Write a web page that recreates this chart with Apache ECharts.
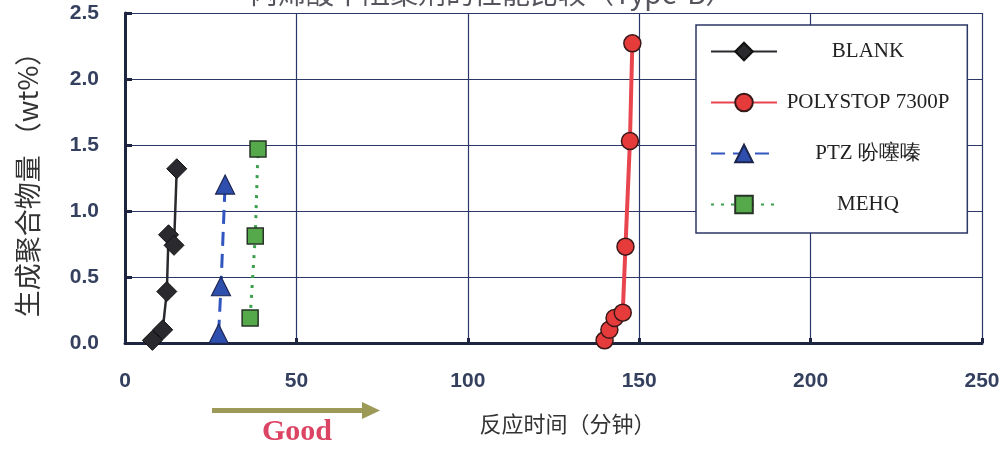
<!DOCTYPE html>
<html><head><meta charset="utf-8">
<script src="https://cdn.jsdelivr.net/npm/echarts@6/dist/echarts.min.js"></script>
<style>html,body{margin:0;padding:0;background:#fff}#c{width:1007px;height:450px}</style>
</head><body><div id="c"></div>
<script>
const titleText = '丙烯酸中阻聚剂的性能比较（Type-B）';
const xName = '反应时间（分钟）';
const yName = '生成聚合物量 （wt%）';
const seriesNames = ['BLANK', 'POLYSTOP 7300P', 'PTZ 吩噻嗪', 'MEHQ'];
const blank = [[8, 0.02], [11, 0.1], [12.2, 0.39], [12.7, 0.82], [14.3, 0.74], [15.1, 1.32]];
const polystop = [[139.9, 0.02], [141.3, 0.1], [142.8, 0.19], [145.2, 0.23], [146.0, 0.73], [147.3, 1.53], [148.0, 2.27]];
const ptz = [[27.3, 0.07], [28.0, 0.43], [29.2, 1.2]];
const mehq = [[36.5, 0.19], [38.0, 0.81], [38.8, 1.47]];

const chart = echarts.init(document.getElementById('c'));
const gridColor = '#2b3766';
const lab = {fontFamily: 'Liberation Sans', fontWeight: 'bold', fontSize: 21, color: '#34405e'};
chart.setOption({
  animation: false,
  backgroundColor: '#fff',
  title: {text: titleText, left: 245, top: -26, textStyle: {fontSize: 28, fontWeight: 'normal', color: '#55555e', fontFamily: 'Noto Sans CJK SC'}},
  grid: {left: 125, right: 25, top: 13, bottom: 107},
  legend: {
    orient: 'vertical', left: 696, top: 25,
    padding: [16, 18, 18, 14], itemGap: 30, itemWidth: 66, itemHeight: 22,
    backgroundColor: '#fff', borderColor: '#2b3766', borderWidth: 1.5,
    formatter: n => '{a|' + n + '}',
    textStyle: {fontFamily: 'Liberation Serif', fontSize: 21, color: '#222',
      rich: {a: {fontFamily: 'Liberation Serif', fontSize: 21, color: '#222', width: 172, align: 'center'}}},
    data: seriesNames
  },
  xAxis: {
    type: 'value', min: 0, max: 250, interval: 50,
    name: xName, nameLocation: 'middle', nameGap: 70,
    nameTextStyle: {fontSize: 22, color: '#333', fontFamily: 'Noto Sans CJK SC', padding: [0, 0, 0, 28]},
    axisLine: {lineStyle: {color: '#1e2540', width: 3}},
    axisTick: {show: true, inside: true, length: 5, lineStyle: {color: '#1e2540', width: 3}},
    axisLabel: Object.assign({margin: 28}, lab),
    splitLine: {show: true, lineStyle: {color: gridColor, width: 1.2}}
  },
  yAxis: {
    type: 'value', min: 0, max: 2.5, interval: 0.5,
    name: yName, nameLocation: 'middle', nameGap: 84, nameRotate: 90,
    nameTextStyle: {fontSize: 27, color: '#333', fontFamily: 'Noto Sans CJK SC'},
    axisLine: {show: true, lineStyle: {color: '#1e2540', width: 3}},
    axisTick: {show: true, inside: true, length: 7, lineStyle: {color: '#1e2540', width: 3}},
    axisLabel: Object.assign({margin: 26, formatter: v => v.toFixed(1)}, lab),
    splitLine: {show: true, lineStyle: {color: gridColor, width: 1.2}}
  },
  graphic: [
    {type: 'rect', shape: {x: 212, y: 408, width: 152, height: 5}, style: {fill: '#9c9a56'}},
    {type: 'polygon', shape: {points: [[362, 402], [380, 410.5], [362, 419]]}, style: {fill: '#9c9a56'}},
    {type: 'text', style: {text: 'Good', x: 297, y: 432, align: 'center', verticalAlign: 'middle', font: 'bold 30px "Liberation Serif"', fill: '#dc4464'}}
  ],
  series: [
    {name: seriesNames[0], type: 'line', data: blank, symbol: 'diamond', symbolSize: 20,
      lineStyle: {color: '#2a2a2e', width: 2.5}, itemStyle: {color: '#2a2a2e', borderColor: '#111', borderWidth: 1}, z: 5},
    {name: seriesNames[1], type: 'line', data: polystop, symbol: 'circle', symbolSize: 17,
      lineStyle: {color: '#e8454e', width: 4}, itemStyle: {color: '#e53b3b', borderColor: '#3a1818', borderWidth: 1.5}, z: 5},
    {name: seriesNames[2], type: 'line', data: ptz, symbol: 'triangle', symbolSize: 19,
      lineStyle: {color: '#3256c0', width: 3, type: [14, 8]}, itemStyle: {color: '#2f4fae', borderColor: '#1b2550', borderWidth: 1.2}, z: 5},
    {name: seriesNames[3], type: 'line', data: mehq, symbol: 'rect', symbolSize: 16,
      lineStyle: {color: '#3ba04c', width: 3, type: [3, 7]}, itemStyle: {color: '#55a94a', borderColor: '#263326', borderWidth: 1.5}, z: 5}
  ]
});
</script></body></html>
